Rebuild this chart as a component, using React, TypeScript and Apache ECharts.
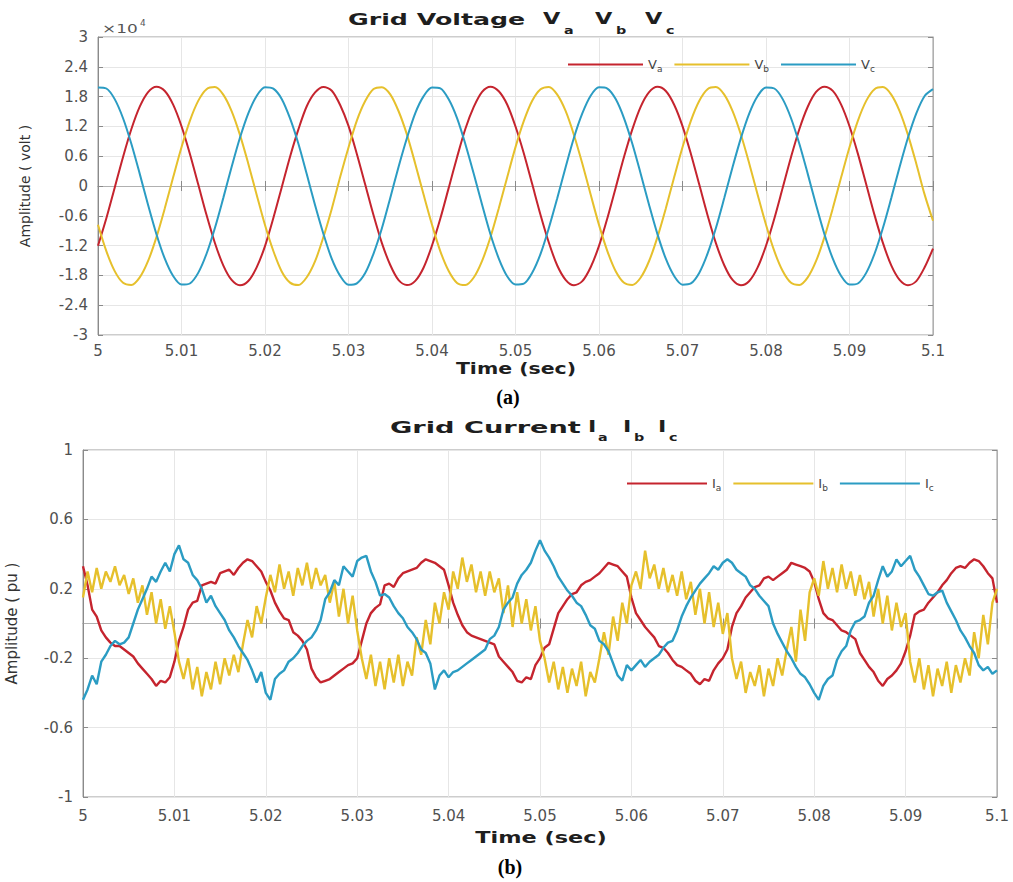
import React, { useEffect, useRef } from "react";
import * as echarts from "echarts";

// ---------- axes ----------
const T_START = 5;
const T_END = 5.1;
const T_INTERVAL = 0.01;
const V_STEP = 0.001; // voltage samples every 1 ms
const I_STEP = 0.0005; // current samples every 0.5 ms
const V_TICKS = [-3, -2.4, -1.8, -1.2, -0.6, 0, 0.6, 1.2, 1.8, 2.4, 3]; // x 10^4 volt
const I_TICKS = [-1, -0.6, -0.2, 0.2, 0.6, 1]; // pu

// ---------- grid voltage (volt), 5.000 .. 5.100 s ----------
const VA = [
  -12040, -6510, -350, 5850, 11470, 15970, 18910, 19980, 19130, 16380, 12040, 6510, 350, -5850, -11470, -15970, -18910, -19980, -19130, -16380,
  -12100, -6450, -300, 5900, 11400, 16050, 18850, 19950, 19180, 16300, 12100, 6450, 300, -5900, -11500, -15900, -18950, -19950, -19100, -16400,
  -11980, -6550, -380, 5800, 11520, 15920, 18960, 20000, 19080, 16420, 11990, 6560, 380, -5820, -11430, -16010, -18880, -19990, -19160, -16350,
  -12060, -6480, -330, 5870, 11450, 15990, 18900, 19960, 19120, 16360, 12060, 6490, 330, -5870, -11490, -15950, -18920, -19970, -19120, -16390,
  -12020, -6530, -360, 5840, 11480, 15960, 18930, 19990, 19140, 16370, 12030, 6520, 360, -5860, -11460, -15980, -18900, -19980, -19140, -16370,
  -12600,
];
const VB = [
  -7810, -13120, -17140, -19490, -19920, -18410, -15090, -10300, -4500, 1740, 7810, 13120, 17140, 19490, 19920, 18410, 15090, 10300, 4500, -1740,
  -7860, -13080, -17200, -19450, -19950, -18380, -15140, -10250, -4560, 1790, 7760, 13170, 17100, 19520, 19900, 18450, 15050, 10350, 4450, -1780,
  -7790, -13150, -17110, -19510, -19930, -18430, -15070, -10320, -4480, 1720, 7830, 13100, 17160, 19470, 19940, 18390, 15110, 10280, 4520, -1720,
  -7830, -13100, -17160, -19480, -19910, -18420, -15100, -10290, -4510, 1760, 7800, 13130, 17130, 19500, 19920, 18400, 15080, 10310, 4490, -1750,
  -7800, -13130, -17130, -19500, -19920, -18400, -15090, -10300, -4500, 1740, 7810, 13120, 17140, 19490, 19910, 18410, 15090, 10300, 4500, -1740,
  -7000,
];
const VC = [
  19850, 19630, 17490, 13640, 8450, 2440, -3820, -9700, -14630, -18130, -19850, -19630, -17490, -13640, -8450, -2440, 3820, 9700, 14630, 18130,
  19880, 19600, 17530, 13600, 8500, 2400, -3870, -9650, -14680, -18090, -19880, -19600, -17530, -13600, -8500, -2400, 3870, 9650, 14680, 18090,
  19830, 19650, 17460, 13670, 8420, 2470, -3790, -9730, -14600, -18160, -19830, -19650, -17460, -13670, -8420, -2470, 3790, 9730, 14600, 18160,
  19860, 19620, 17500, 13630, 8460, 2430, -3830, -9690, -14640, -18120, -19860, -19620, -17500, -13630, -8460, -2430, 3830, 9690, 14640, 18120,
  19850, 19630, 17490, 13640, 8450, 2440, -3820, -9700, -14630, -18130, -19850, -19630, -17490, -13640, -8450, -2440, 3820, 9700, 14630, 18130,
  19500,
];

// ---------- grid current (pu), 5.0000 .. 5.1000 s ----------
const IA = [
  0.33, 0.22, 0.08, 0.04, -0.04, -0.08, -0.11, -0.13, -0.13, -0.15, -0.17,
  -0.19, -0.23, -0.26, -0.29, -0.32, -0.36, -0.33, -0.34, -0.31, -0.22,
  -0.10, -0.02, 0.08, 0.12, 0.13, 0.22, 0.23, 0.24, 0.23, 0.29,
  0.30, 0.31, 0.28, 0.32, 0.35, 0.37, 0.36, 0.33, 0.30, 0.24,
  0.19, 0.12, 0.07, 0.03, 0.02, -0.05, -0.07, -0.10, -0.15, -0.26,
  -0.31, -0.34, -0.33, -0.32, -0.30, -0.28, -0.26, -0.24, -0.23, -0.20,
  -0.10, 0.00, 0.06, 0.09, 0.11, 0.22, 0.23, 0.21, 0.26, 0.29,
  0.30, 0.31, 0.32, 0.35, 0.37, 0.36, 0.35, 0.33, 0.31, 0.22,
  0.12, 0.05, -0.01, -0.05, -0.07, -0.08, -0.09, -0.10, -0.11, -0.12,
  -0.19, -0.22, -0.25, -0.28, -0.33, -0.34, -0.31, -0.32, -0.24, -0.20,
  -0.14, -0.12, -0.03, 0.06, 0.10, 0.14, 0.17, 0.18, 0.22, 0.24,
  0.25, 0.27, 0.29, 0.32, 0.35, 0.34, 0.33, 0.30, 0.27, 0.15,
  0.06, 0.02, -0.02, -0.05, -0.08, -0.13, -0.14, -0.17, -0.21, -0.24,
  -0.25, -0.27, -0.29, -0.33, -0.35, -0.32, -0.33, -0.27, -0.23, -0.20,
  -0.15, -0.02, 0.06, 0.10, 0.15, 0.18, 0.21, 0.22, 0.26, 0.27,
  0.25, 0.27, 0.29, 0.31, 0.35, 0.34, 0.33, 0.32, 0.30, 0.24,
  0.14, 0.06, 0.03, 0.02, -0.01, -0.04, -0.05, -0.07, -0.09, -0.17,
  -0.21, -0.25, -0.28, -0.33, -0.36, -0.32, -0.30, -0.27, -0.23, -0.16,
  -0.07, 0.05, 0.07, 0.08, 0.12, 0.15, 0.18, 0.22, 0.25, 0.29,
  0.32, 0.33, 0.32, 0.35, 0.37, 0.36, 0.33, 0.29, 0.26, 0.12,
];
const IB = [
  0.15, 0.30, 0.18, 0.32, 0.20, 0.30, 0.24, 0.33, 0.22, 0.28, 0.17,
  0.26, 0.12, 0.22, 0.05, 0.18, 0.00, 0.14, -0.03, 0.10, -0.05,
  -0.22, -0.32, -0.20, -0.38, -0.25, -0.42, -0.28, -0.38, -0.22, -0.35,
  -0.20, -0.30, -0.18, -0.28, -0.12, 0.02, -0.08, 0.10, 0.00, 0.15,
  0.28, 0.18, 0.34, 0.20, 0.30, 0.16, 0.32, 0.22, 0.35, 0.20,
  0.32, 0.22, 0.28, 0.12, 0.24, 0.04, 0.20, 0.00, 0.16, -0.04,
  -0.20, -0.32, -0.18, -0.36, -0.22, -0.38, -0.20, -0.34, -0.18, -0.36,
  -0.22, -0.30, -0.08, -0.18, 0.02, -0.12, 0.12, 0.00, 0.18, 0.08,
  0.30, 0.20, 0.38, 0.24, 0.34, 0.18, 0.30, 0.16, 0.30, 0.18,
  0.26, 0.06, 0.22, -0.02, 0.18, 0.00, 0.14, -0.04, 0.10, -0.10,
  -0.20, -0.34, -0.22, -0.38, -0.25, -0.40, -0.26, -0.36, -0.22, -0.42,
  -0.28, -0.34, -0.20, -0.05, -0.18, 0.04, -0.10, 0.12, 0.00, 0.22,
  0.30, 0.20, 0.42, 0.26, 0.34, 0.20, 0.32, 0.18, 0.28, 0.16,
  0.30, 0.14, 0.24, 0.05, 0.20, 0.00, 0.18, -0.02, 0.12, -0.06,
  0.06, -0.20, -0.32, -0.22, -0.40, -0.28, -0.36, -0.24, -0.42, -0.26,
  -0.36, -0.20, -0.30, -0.15, -0.02, -0.22, 0.08, -0.10, 0.18, 0.26,
  0.16, 0.36, 0.20, 0.32, 0.18, 0.34, 0.20, 0.30, 0.16, 0.28,
  0.14, 0.24, 0.04, 0.20, 0.00, 0.16, -0.04, 0.12, -0.02, 0.06,
  -0.22, -0.34, -0.20, -0.38, -0.24, -0.42, -0.26, -0.36, -0.22, -0.40,
  -0.24, -0.34, -0.20, -0.30, -0.05, -0.20, 0.05, -0.12, 0.12, 0.20,
];
const IC = [
  -0.44, -0.38, -0.30, -0.35, -0.22, -0.18, -0.13, -0.10, -0.12, -0.11, -0.08,
  0.00, 0.08, 0.14, 0.20, 0.27, 0.24, 0.30, 0.35, 0.30, 0.40,
  0.45, 0.37, 0.35, 0.28, 0.25, 0.20, 0.12, 0.16, 0.10, 0.06,
  0.02, -0.04, -0.08, -0.13, -0.17, -0.21, -0.27, -0.34, -0.28, -0.40,
  -0.44, -0.32, -0.29, -0.27, -0.22, -0.20, -0.17, -0.13, -0.10, -0.08,
  -0.04, 0.02, 0.14, 0.18, 0.25, 0.22, 0.33, 0.30, 0.27, 0.36,
  0.38, 0.39, 0.30, 0.24, 0.16, 0.17, 0.15, 0.10, 0.06, 0.03,
  -0.02, -0.05, -0.09, -0.15, -0.17, -0.23, -0.38, -0.30, -0.27, -0.31,
  -0.28, -0.27, -0.25, -0.23, -0.21, -0.19, -0.17, -0.15, -0.09, -0.07,
  -0.02, 0.08, 0.12, 0.15, 0.23, 0.28, 0.31, 0.35, 0.42, 0.48,
  0.42, 0.38, 0.33, 0.27, 0.23, 0.19, 0.16, 0.12, 0.10, 0.05,
  -0.01, -0.03, -0.10, -0.12, -0.16, -0.23, -0.30, -0.33, -0.24, -0.27,
  -0.24, -0.21, -0.25, -0.22, -0.20, -0.18, -0.14, -0.11, -0.10, -0.04,
  0.04, 0.10, 0.15, 0.19, 0.23, 0.26, 0.29, 0.33, 0.31, 0.35,
  0.37, 0.35, 0.31, 0.29, 0.27, 0.22, 0.20, 0.16, 0.13, 0.10,
  0.00, -0.06, -0.11, -0.16, -0.20, -0.25, -0.29, -0.31, -0.35, -0.40,
  -0.44, -0.36, -0.32, -0.30, -0.21, -0.16, -0.13, -0.04, 0.01, 0.02,
  0.04, 0.12, 0.16, 0.25, 0.33, 0.27, 0.30, 0.37, 0.33, 0.36,
  0.39, 0.31, 0.27, 0.22, 0.17, 0.16, 0.18, 0.19, 0.12, 0.07,
  0.02, -0.04, -0.08, -0.13, -0.17, -0.24, -0.27, -0.25, -0.29, -0.27,
];

const V_NAMES = ["Va", "Vb", "Vc"];
const I_NAMES = ["Ia", "Ib", "Ic"];
const RED = "#c5242e";
const YELLOW = "#e6c02c";
const CYAN = "#2b9cc3";

const FONT = "DejaVu Sans";
const LABEL_COLOR = "#505050";

const toPairs = (vals: number[], step: number) =>
  vals.map((v, i) => [Number((T_START + i * step).toFixed(4)), v]);

const fmtX = (v: number) => String(Math.round(v * 100) / 100);

function xAxes(gridIndex: number) {
  const base = {
    type: "value",
    gridIndex,
    min: T_START,
    max: T_END,
    interval: T_INTERVAL,
  };
  return [
    {
      ...base,
      position: "bottom",
      axisLine: { show: true, lineStyle: { color: "#8a8a8a", width: 1 } },
      axisTick: { show: true, inside: true, length: 5, lineStyle: { color: "#8a8a8a" } },
      axisLabel: {
        show: true,
        formatter: fmtX,
        color: LABEL_COLOR,
        fontFamily: FONT,
        fontSize: 15,
        margin: gridIndex === 0 ? 8 : 11,
        showMinLabel: true,
        showMaxLabel: true,
      },
      splitLine: { show: true, lineStyle: { color: "#e6e6e6", width: 1 } },
    },
    {
      ...base,
      position: "top",
      axisLine: { show: true, lineStyle: { color: "#b0b0b0", width: 1 } },
      axisTick: { show: true, inside: true, length: 5, lineStyle: { color: "#8a8a8a" } },
      axisLabel: { show: false },
      splitLine: { show: false },
    },
  ];
}

function yAxes(gridIndex: number, min: number, max: number, interval: number, fmt: (v: number) => string, name: string, nameGap: number, nameSize: number) {
  const base = { type: "value", gridIndex, min, max, interval };
  return [
    {
      ...base,
      position: "left",
      name,
      nameLocation: "middle",
      nameGap,
      nameTextStyle: { fontFamily: FONT, fontSize: nameSize, color: "#333" },
      axisLine: { show: true, lineStyle: { color: "#8a8a8a", width: 1 } },
      axisTick: { show: true, inside: true, length: 5, lineStyle: { color: "#8a8a8a" } },
      axisLabel: {
        show: true,
        formatter: fmt,
        color: LABEL_COLOR,
        fontFamily: FONT,
        fontSize: 15,
        margin: 10,
        showMinLabel: true,
        showMaxLabel: true,
      },
      splitLine: { show: true, lineStyle: { color: "#e6e6e6", width: 1 } },
    },
    {
      ...base,
      position: "right",
      axisLine: { show: true, lineStyle: { color: "#b0b0b0", width: 1 } },
      axisTick: { show: true, inside: true, length: 5, lineStyle: { color: "#8a8a8a" } },
      axisLabel: { show: false },
      splitLine: { show: false },
    },
  ];
}

function txt(x: number, y: number, text: string, size: number, opts: any = {}) {
  return {
    type: "text",
    x,
    y,
    scaleX: opts.scaleX ?? 1,
    silent: true,
    style: {
      text,
      fontSize: size,
      fontWeight: opts.bold ? "bold" : "normal",
      fontFamily: opts.family ?? FONT,
      fill: opts.color ?? "#1e1e1e",
      textAlign: opts.align ?? "left",
      textVerticalAlign: "middle",
    },
  };
}

function legend(names: string[], left: number, top: number, itemWidth: number, gap: number) {
  return {
    data: names,
    left,
    top,
    orient: "horizontal",
    icon: "rect",
    itemWidth,
    itemHeight: 2,
    itemGap: gap,
    selectedMode: false,
    formatter: (n: string) => `{m|${n[0]}}{s|${n[1]}}`,
    textStyle: {
      rich: {
        m: { fontSize: 13, color: "#444", fontFamily: FONT },
        s: { fontSize: 9, color: "#444", fontFamily: FONT, padding: [9, 0, 0, 0] },
      },
    },
  };
}

function lineSeries(name: string, data: number[][], color: string, idx: number, width: number, smooth: number | boolean) {
  return {
    name,
    type: "line",
    xAxisIndex: idx,
    yAxisIndex: idx,
    data,
    showSymbol: false,
    symbol: "none",
    smooth,
    silent: true,
    lineStyle: { color, width },
    itemStyle: { color },
    emphasis: { disabled: true },
  };
}

export default function App() {
  const ref = useRef<HTMLDivElement>(null);
  useEffect(() => {
    const chart = echarts.init(ref.current!, null, { renderer: "svg" });
    const vMin = V_TICKS[0] * 1e4;
    const vMax = V_TICKS[V_TICKS.length - 1] * 1e4;
    const vInt = Math.round((V_TICKS[1] - V_TICKS[0]) * 1e4);
    const iMin = I_TICKS[0];
    const iMax = I_TICKS[I_TICKS.length - 1];
    const iInt = Math.round((I_TICKS[1] - I_TICKS[0]) * 10) / 10;

    const option: any = {
      animation: false,
      backgroundColor: "#ffffff",
      textStyle: { fontFamily: FONT },
      grid: [
        { left: 98, top: 37, width: 835, height: 298, show: true, borderColor: "#9a9a9a", borderWidth: 1, backgroundColor: "#fff", containLabel: false, outerBoundsMode: "none" },
        { left: 83, top: 450, width: 914, height: 347, show: true, borderColor: "#9a9a9a", borderWidth: 1, backgroundColor: "#fff", containLabel: false, outerBoundsMode: "none" },
      ],
      xAxis: [...xAxes(0), ...xAxes(1)],
      yAxis: [
        ...yAxes(0, vMin, vMax, vInt, (v: number) => String(Math.round(v / 1000) / 10), "Amplitude ( volt )", 66, 14),
        ...yAxes(1, iMin, iMax, iInt, (v: number) => String(Math.round(v * 10) / 10), "Amplitude ( pu )", 64, 15),
      ],
      legend: [legend(V_NAMES, 563, 53, 75, 12), legend(I_NAMES, 622, 472, 80, 12)],
      series: [
        lineSeries("Va", toPairs(VA, V_STEP), RED, 0, 2, 0.3),
        lineSeries("Vb", toPairs(VB, V_STEP), YELLOW, 0, 2, 0.3),
        lineSeries("Vc", toPairs(VC, V_STEP), CYAN, 0, 2, 0.3),
        lineSeries("Ia", toPairs(IA, I_STEP), RED, 2, 2.4, false),
        lineSeries("Ib", toPairs(IB, I_STEP), YELLOW, 2, 2.4, false),
        lineSeries("Ic", toPairs(IC, I_STEP), CYAN, 2, 2.4, false),
      ],
      graphic: [
        // top title
        txt(348, 19, "Grid Voltage", 16, { bold: true, scaleX: 1.58 }),
        txt(543, 19, "V", 16, { bold: true, scaleX: 1.4 }),
        txt(564, 30, "a", 11, { bold: true, scaleX: 1.3 }),
        txt(595, 19, "V", 16, { bold: true, scaleX: 1.4 }),
        txt(616, 30, "b", 11, { bold: true, scaleX: 1.3 }),
        txt(645, 19, "V", 16, { bold: true, scaleX: 1.4 }),
        txt(666, 30, "c", 11, { bold: true, scaleX: 1.3 }),
        // exponent
        txt(102, 29, "×10", 13, { color: "#555", scaleX: 1.3 }),
        txt(140, 23, "4", 9, { color: "#555" }),
        // x axis names
        txt(516, 368, "Time (sec)", 16, { bold: true, scaleX: 1.28, align: "center" }),
        txt(541, 838, "Time (sec)", 16, { bold: true, scaleX: 1.4, align: "center" }),
        // panel labels
        txt(508, 397, "(a)", 20, { bold: true, family: "Liberation Serif", color: "#000", align: "center" }),
        txt(510, 867, "(b)", 20, { bold: true, family: "Liberation Serif", color: "#000", align: "center" }),
        // bottom title
        txt(390, 427, "Grid Current", 16, { bold: true, scaleX: 1.7 }),
        txt(588, 427, "I", 16, { bold: true, scaleX: 1.4 }),
        txt(598, 437, "a", 11, { bold: true, scaleX: 1.3 }),
        txt(623, 427, "I", 16, { bold: true, scaleX: 1.4 }),
        txt(634, 437, "b", 11, { bold: true, scaleX: 1.3 }),
        txt(658, 427, "I", 16, { bold: true, scaleX: 1.4 }),
        txt(669, 437, "c", 11, { bold: true, scaleX: 1.3 }),
      ],
    };
    chart.setOption(option);
    return () => chart.dispose();
  }, []);
  return (
    <div
      ref={ref}
      style={{ position: "fixed", left: 0, top: 0, width: 1013, height: 882, background: "#fff" }}
    />
  );
}
